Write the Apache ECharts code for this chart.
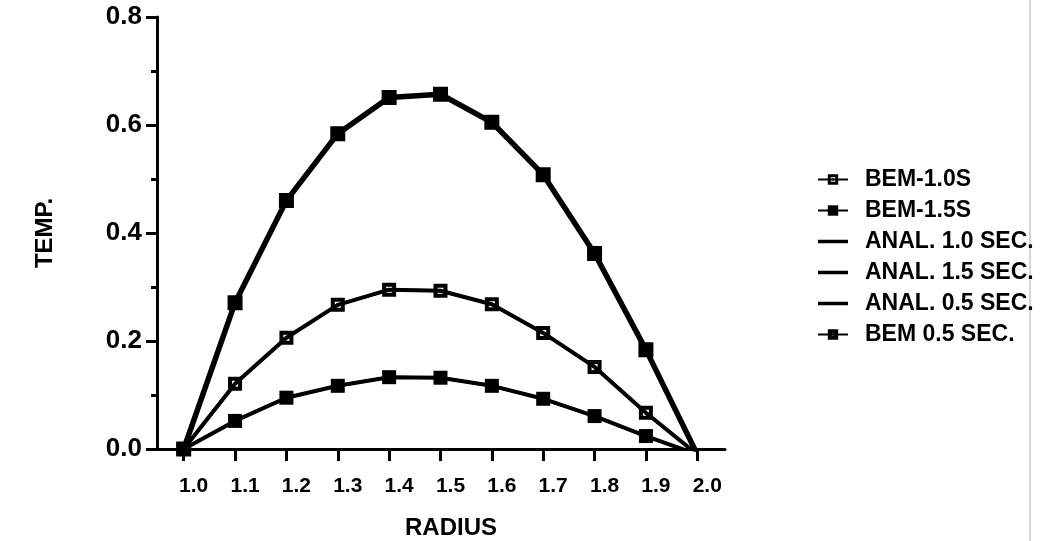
<!DOCTYPE html>
<html>
<head>
<meta charset="utf-8">
<script src="https://cdn.jsdelivr.net/npm/echarts@6/dist/echarts.min.js"></script>
<style>
html,body{margin:0;padding:0;background:#fff;}
#c{width:1050px;height:541px;}
</style>
</head>
<body>
<div id="c"></div>
<script>
// ---- data ----
var radius = [1.0, 1.1, 1.2, 1.3, 1.4, 1.5, 1.6, 1.7, 1.8, 1.9, 2.0];
var xTickLabels = ['1.0','1.1','1.2','1.3','1.4','1.5','1.6','1.7','1.8','1.9','2.0'];
var bem10 = [0, 0.121, 0.206, 0.267, 0.295, 0.293, 0.268, 0.215, 0.152, 0.067, -0.01];
var bem15 = [0, 0.052, 0.095, 0.117, 0.133, 0.132, 0.117, 0.093, 0.061, 0.024, -0.01];
var bem05 = [0, 0.271, 0.460, 0.584, 0.651, 0.657, 0.605, 0.508, 0.362, 0.184, -0.01];
var anal10 = [0, 0.121, 0.206, 0.267, 0.295, 0.293, 0.268, 0.215, 0.152, 0.067, -0.01];
var anal15 = [0, 0.052, 0.095, 0.117, 0.133, 0.132, 0.117, 0.093, 0.061, 0.024, -0.01];
var anal05 = [0, 0.271, 0.460, 0.584, 0.651, 0.657, 0.605, 0.508, 0.362, 0.184, -0.01];
var seriesNames = ['BEM-1.0S', 'BEM-1.5S', 'ANAL. 1.0 SEC.', 'ANAL. 1.5 SEC.', 'ANAL. 0.5 SEC.', 'BEM 0.5 SEC.'];

function pairs(ys){ return radius.map(function(x,i){ return [x, ys[i]]; }); }

var FONT = '"Liberation Sans", Arial, Helvetica, sans-serif';
// symbols: square with ring + centre dot, solid square, square with pinhole
var symOpenDot = 'path://M0,0H14V14H0Z M4,4V10H10V4Z M5.8,5.8H8.2V8.2H5.8Z';
var symSolid = 'path://M0,0H12V12H0Z';
var symPinhole = 'path://M0,0H14V14H0Z M5.5,5.5V8.5H8.5V5.5Z';
var lineIcon = 'path://M0,0H30V3.5H0Z';

var chart = echarts.init(document.getElementById('c'), null, {renderer: 'canvas'});
var lineCommon = { type: 'line', color: '#000', silent: true, animation: false };
chart.setOption({
  backgroundColor: '#fff',
  animation: false,
  grid: {left: 157, right: 325, top: 17, bottom: 92, containLabel: false, outerBoundsMode: 'none'},
  xAxis: {
    type: 'value', min: 0.948, max: 2.054,
    axisLine: {show: true, onZero: false, lineStyle: {color: '#000', width: 3}},
    axisTick: {show: true, length: 12, lineStyle: {color: '#000', width: 3}, customValues: radius},
    axisLabel: {
      customValues: radius, margin: 27, color: '#000', fontFamily: FONT, fontWeight: 'bold', fontSize: 21,
      padding: [0, 0, 0, 20],
      formatter: function(v){ var i = radius.indexOf(Math.round(v*10)/10); return i >= 0 ? xTickLabels[i] : ''; }
    },
    splitLine: {show: false},
    name: 'RADIUS', nameLocation: 'middle', nameGap: 67,
    nameTextStyle: {color: '#000', fontFamily: FONT, fontWeight: 'bold', fontSize: 24, padding: [0, 0, 0, 20]}
  },
  yAxis: {
    type: 'value', min: 0, max: 0.8, interval: 0.2,
    axisLine: {show: true, onZero: false, lineStyle: {color: '#000', width: 3}},
    axisTick: {show: true, length: 11, lineStyle: {color: '#000', width: 3}},
    minorTick: {show: true, splitNumber: 2, length: 6, lineStyle: {color: '#000', width: 3}},
    axisLabel: {
      margin: 15, color: '#000', fontFamily: FONT, fontWeight: 'bold', fontSize: 26,
      formatter: function(v){ return v.toFixed(1); }
    },
    splitLine: {show: false},
    name: 'TEMP.', nameLocation: 'middle', nameGap: 100, nameRotate: 90,
    nameTextStyle: {color: '#000', fontFamily: FONT, fontWeight: 'bold', fontSize: 24}
  },
  legend: {
    orient: 'vertical', left: 812, top: 163,
    itemWidth: 30, itemHeight: 13, itemGap: 8,
    data: [
      {name: seriesNames[0]},
      {name: seriesNames[1]},
      {name: seriesNames[2], icon: lineIcon},
      {name: seriesNames[3], icon: lineIcon},
      {name: seriesNames[4], icon: lineIcon},
      {name: seriesNames[5]}
    ],
    textStyle: {color: '#000', fontFamily: FONT, fontWeight: 'bold', fontSize: 23, lineHeight: 23, padding: [0, 0, 0, 12]},
    selectedMode: false
  },
  graphic: [{
    type: 'line', shape: {x1: 1030, y1: 0, x2: 1030, y2: 541},
    style: {stroke: '#b0b0b0', lineWidth: 1}, silent: true
  }],
  series: [
    Object.assign({}, lineCommon, {name: 'BEM-1.0S', data: pairs(bem10), z: 5,
      symbol: symOpenDot, symbolSize: 14, lineStyle: {width: 3, color: '#000'},
      itemStyle: {color: '#000'}}),
    Object.assign({}, lineCommon, {name: 'BEM-1.5S', data: pairs(bem15), z: 5,
      symbol: symSolid, symbolSize: 14, lineStyle: {width: 3, color: '#000'},
      itemStyle: {color: '#000'}}),
    Object.assign({}, lineCommon, {name: 'ANAL. 1.0 SEC.', data: pairs(anal10), z: 3,
      symbol: 'none', lineStyle: {width: 4, color: '#000'}, itemStyle: {color: '#000'}}),
    Object.assign({}, lineCommon, {name: 'ANAL. 1.5 SEC.', data: pairs(anal15), z: 3,
      symbol: 'none', lineStyle: {width: 4, color: '#000'}, itemStyle: {color: '#000'}}),
    Object.assign({}, lineCommon, {name: 'ANAL. 0.5 SEC.', data: pairs(anal05), z: 3,
      symbol: 'none', lineStyle: {width: 5.5, color: '#000'}, itemStyle: {color: '#000'}}),
    Object.assign({}, lineCommon, {name: 'BEM 0.5 SEC.', data: pairs(bem05), z: 5,
      symbol: symPinhole, symbolSize: 15, lineStyle: {width: 3, color: '#000'},
      itemStyle: {color: '#000'}})
  ]
});
</script>
</body>
</html>
